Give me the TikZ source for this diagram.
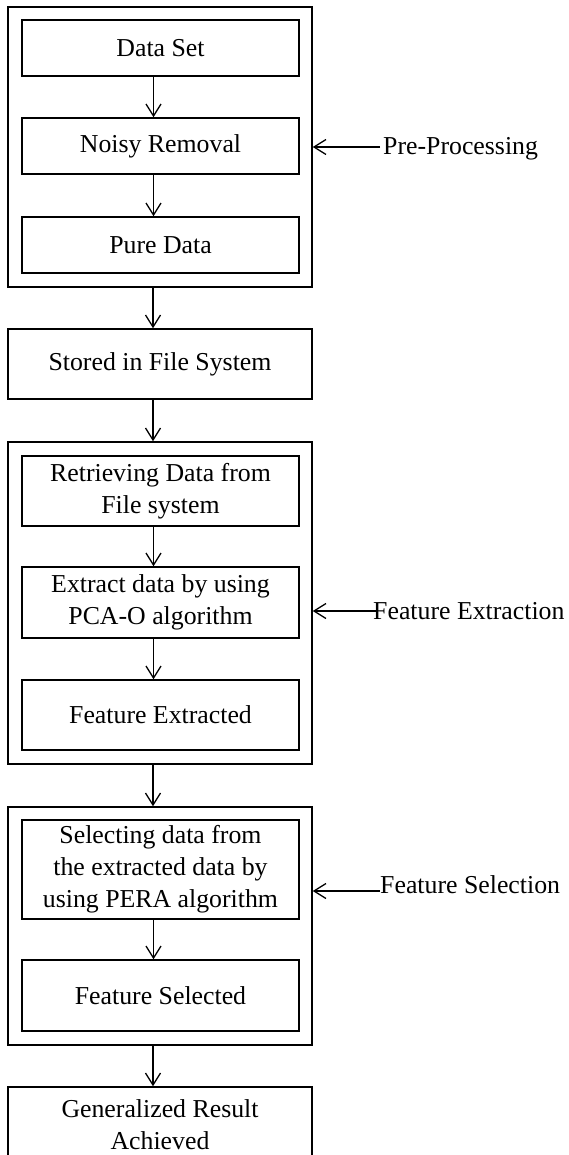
\documentclass[tikz,border=0pt]{standalone}
\usepackage{fontspec}
\setmainfont{Liberation Serif}
\usetikzlibrary{arrows.meta}
\begin{document}
\begin{tikzpicture}[x=1pt,y=-1pt,
  every node/.style={font=\fontsize{25.8}{32}\selectfont},
  inbox/.style={draw,line width=1.5pt,minimum width=277pt,inner sep=0pt,align=center},
  outbox/.style={draw,line width=1.5pt,inner sep=0pt,minimum width=304pt},
  sidelbl/.style={anchor=base west,inner sep=0pt},
  arr/.style={line width=1.4pt,-{Straight Barb[length=12pt,width=15pt,line width=1.3pt]}}]
\clip (0,0) rectangle (568,1155);
\fill[white] (0,0) rectangle (568,1155);
% group 1
\node[outbox,minimum height=280pt] (g1) at (160,147) {};
\node[inbox,minimum height=56pt] (ds) at (160.5,48) {Data Set};
\node[inbox,minimum height=56pt] (nr) at (160.5,146) {Noisy Removal};
\node[inbox,minimum height=56pt] (pd) at (160.5,245) {Pure Data};
% stored
\node[outbox,minimum height=70pt,align=center] (sf) at (160,364) {Stored in File System};
% group 2
\node[outbox,minimum height=322pt] (g2) at (160,603) {};
\node[inbox,minimum height=70pt] (rd) at (160.5,491) {Retrieving Data from\\File system};
\node[inbox,minimum height=71pt] (ex) at (160.5,602.5) {Extract data by using\\PCA-O algorithm};
\node[inbox,minimum height=70pt] (fe) at (160.5,715) {Feature Extracted};
% group 3
\node[outbox,minimum height=238pt] (g3) at (160,926) {};
\node[inbox,minimum height=99pt] (sd) at (160.5,869.5) {Selecting data from\\the extracted data by\\using PERA algorithm};
\node[inbox,minimum height=71pt] (fs) at (160.5,995.5) {Feature Selected};
% result
\node[outbox,minimum height=76pt,align=center] (gr) at (160,1125) {Generalized Result\\Achieved};
% vertical arrows
\foreach \a/\b in {ds/nr,nr/pd,g1/sf,sf/g2,rd/ex,ex/fe,g2/g3,sd/fs,g3/gr}
  \draw[arr] ([xshift=-7pt]\a.south) -- ([xshift=-7pt]\b.north);
% side labels
\coordinate (pa) at (380,147);
\node[sidelbl] (pl) at (383,155) {Pre-Processing};
\draw[arr] (pa) -- (pa -| g1.east);
\coordinate (ea) at (376,611);
\node[sidelbl] (el) at (373,619) {Feature Extraction};
\draw[arr] (ea) -- (ea -| g2.east);
\coordinate (sa) at (380,891);
\node[sidelbl] (sl) at (380,893) {Feature Selection};
\draw[arr] (sa) -- (sa -| g3.east);
\end{tikzpicture}
\end{document}
